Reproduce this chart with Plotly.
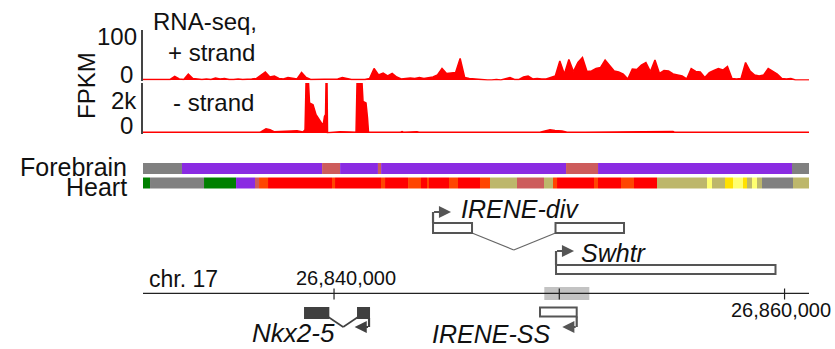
import plotly.graph_objects as go

# ---------------- data ----------------
REGION_START = 26831520
REGION_END = 26861085

# RNA-seq, + strand (FPKM), evenly spaced bins across the region
plus_fpkm = [
    1, 1, 2, 1, 1, 2, 1, 7, 2, 1,
    12, 3, 2, 1, 2, 1, 4, 2, 3, 1,
    1, 2, 1, 1, 2, 3, 10, 16, 6, 8,
    3, 2, 5, 3, 2, 15, 5, 1, 1, 1,
    1, 1, 1, 2, 5, 3, 1, 1, 1, 1,
    3, 23, 10, 14, 8, 13, 6, 2, 3, 4,
    3, 5, 3, 4, 6, 10, 23, 13, 14, 15,
    43, 5, 3, 2, 2, 1, 0, 0, 1, 0,
    2, 5, 1, 1, 6, 8, 2, 3, 2, 2,
    5, 8, 38, 12, 41, 17, 35, 45, 17, 18,
    23, 25, 40, 30, 18, 16, 12, 2, 22, 21,
    30, 35, 17, 40, 13, 19, 18, 12, 10, 8,
    2, 23, 17, 16, 5, 15, 19, 23, 20, 27,
    3, 2, 3, 35, 18, 10, 8, 10, 23, 17,
    12, 3, 2, 3, 0, 0, 0, 0,
]

# RNA-seq, - strand (FPKM)
minus_pos = [
    26831520, 26834052, 26836715, 26836981, 26837159, 26837337, 26838047, 26838358,
    26838624, 26838713, 26838757, 26838868, 26838912, 26839068, 26839201, 26839379,
    26839512, 26839578, 26839623, 26839645, 26839689, 26839711, 26839956, 26840266,
    26840710, 26840977, 26841021, 26841243, 26841287, 26841420, 26841487, 26841531,
    26842930, 26843019, 26843107, 26843684, 26843773, 26849144, 26849366, 26849588,
    26849810, 26850121, 26850343, 26851053, 26851142, 26855048, 26855137, 26861085,
]
minus_fpkm = [
    40, 50, 40, 250, 200, 80, 100, 130,
    60, 200, 3000, 3000, 1800, 1700, 1100, 700,
    450, 1000, 1100, 3000, 3000, 20, 40, 80,
    60, 40, 3000, 3000, 1900, 1800, 900, 40,
    40, 90, 40, 80, 40, 40, 120, 200,
    150, 120, 40, 80, 40, 90, 40, 40,
]

plus_range_max = 100
minus_range_max = 3000
plus_tick_text = ["100", "0"]
minus_tick_text = ["2k", "0"]

# chromatin state segments
forebrain_bounds = [26831520, 26833250, 26839470, 26840270, 26841950, 26842090,
                    26850300, 26851720, 26860330, 26861085]
forebrain_states = ["gray", "purple", "indianred", "purple", "indianred", "purple",
                    "indianred", "purple", "gray"]

heart_bounds = [26831520, 26831832, 26834229, 26835650, 26836493, 26836671, 26837070,
                26839911, 26840044, 26842086, 26842264, 26843285, 26843862, 26844128,
                26844217, 26845105, 26845504, 26846481, 26846925, 26848123, 26849322,
                26849721, 26849899, 26851541, 26851719, 26852740, 26853317, 26854338,
                26856557, 26856779, 26857356, 26857712, 26858156, 26858333, 26858555,
                26858777, 26858999, 26860375, 26861085]
heart_states = ["green", "gray", "green", "purple", "indianred", "orangered", "red",
                "orangered", "red", "orangered", "red", "orangered", "red", "orangered",
                "red", "orangered", "red", "orangered", "khaki", "indianred", "khaki",
                "orangered", "red", "orangered", "red", "orangered", "red", "khaki",
                "paleyellow", "khaki", "yellow", "paleyellow", "yellow", "khaki",
                "paleyellow", "khaki", "gray", "khaki"]

state_colors = {
    "gray": "#808080", "purple": "#8A2BE2", "indianred": "#CD5C5C",
    "green": "#008000", "red": "#FF0000", "orangered": "#FF4500",
    "khaki": "#BDB76B", "yellow": "#FFE100", "paleyellow": "#FFFF70",
}

chr_name = "chr. 17"
chr_ticks = [26840000, 26850000, 26860000]
chr_tick_text = ["26,840,000", "", "26,860,000"]
highlight = [26849335, 26851333]

irene_div_exons = [[26844395, 26846126], [26849832, 26852873]]
swhtr_exons = [[26849855, 26859598]]
irene_ss_exons = [[26849144, 26850773]]
nkx25_exons = [[26838713, 26839747], [26841065, 26841554]]

# ---------------- layout helpers ----------------
W, H = 835, 349
AX_L, AX_R = 143, 809
FONT = "Liberation Sans, Arial, sans-serif"


def pxx(p):
    return p / W


def pyy(p):
    return 1 - p / H


fig = go.Figure()

n = len(plus_fpkm)
step = (REGION_END - REGION_START) / (n - 1)
plus_pos = [REGION_START + i * step for i in range(n)]

fig.add_trace(go.Scatter(x=plus_pos, y=plus_fpkm, mode="lines",
                         line=dict(color="#FF0000", width=1.5),
                         fill="tozeroy", fillcolor="#FF0000",
                         xaxis="x", yaxis="y", hoverinfo="skip"))
fig.add_trace(go.Scatter(x=minus_pos, y=minus_fpkm, mode="lines",
                         line=dict(color="#FF0000", width=1.5),
                         fill="tozeroy", fillcolor="#FF0000",
                         xaxis="x", yaxis="y2", hoverinfo="skip"))

# chromatin state bars
ROW_Y = {"Forebrain": 168.5, "Heart": 183}
bx, bbase, by, bcol = [], [], [], []
for name, bounds, states in (("Forebrain", forebrain_bounds, forebrain_states),
                             ("Heart", heart_bounds, heart_states)):
    for i, s in enumerate(states):
        bbase.append(bounds[i])
        bx.append(bounds[i + 1] - bounds[i])
        by.append(ROW_Y[name])
        bcol.append(state_colors[s])
fig.add_trace(go.Bar(x=bx, base=bbase, y=by, orientation="h", width=11,
                     marker=dict(color=bcol, line=dict(width=0)),
                     xaxis="x", yaxis="y3", hoverinfo="skip"))

shapes = []
GENE_LINE = "#555555"

# chromosome axis
shapes.append(dict(type="rect", xref="x", yref="y3", x0=highlight[0], x1=highlight[1],
                   y0=287, y1=300, fillcolor="#C3C3C3", line=dict(width=0), layer="above"))
shapes.append(dict(type="line", xref="x", yref="y3", x0=REGION_START, x1=REGION_END + 40,
                   y0=293.3, y1=293.3, line=dict(color="#222222", width=1.2)))
for t in chr_ticks:
    shapes.append(dict(type="line", xref="x", yref="y3", x0=t, x1=t, y0=288.5, y1=299.5,
                       line=dict(color="#222222", width=1.2)))


def add_exons(exons, y0, y1, fill, line):
    for a, b in exons:
        shapes.append(dict(type="rect", xref="x", yref="y3", x0=a, x1=b, y0=y0, y1=y1,
                           fillcolor=fill, line=dict(color=line, width=2)))


def add_intron(a, b, ybase, yapex, color, width):
    mid = (a + b) / 2
    for xa, ya, xb, yb in ((a, ybase, mid, yapex), (mid, yapex, b, ybase)):
        shapes.append(dict(type="line", xref="x", yref="y3", x0=xa, y0=ya, x1=xb, y1=yb,
                           line=dict(color=color, width=width)))


def add_tss(xpos, ybox, yarrow, color):
    shapes.append(dict(type="line", xref="x", yref="y3", x0=xpos, x1=xpos,
                       y0=ybox, y1=yarrow, line=dict(color=color, width=2.2)))


# IRENE-div
add_intron(irene_div_exons[0][1], irene_div_exons[1][0], 233, 250, "#666666", 1.2)
add_exons(irene_div_exons, 223, 233, "white", GENE_LINE)
add_tss(irene_div_exons[0][0], 223, 212, GENE_LINE)
# Swhtr
add_exons(swhtr_exons, 265, 274, "white", GENE_LINE)
add_tss(swhtr_exons[0][0], 265, 251, GENE_LINE)
# IRENE-SS
add_exons(irene_ss_exons, 307.5, 316.5, "white", GENE_LINE)
add_tss(irene_ss_exons[0][1], 316.5, 327, GENE_LINE)
# Nkx2-5
add_intron(nkx25_exons[0][1], nkx25_exons[1][0], 317, 327, "#404040", 1.6)
add_exons(nkx25_exons, 308, 318, "#404040", "#404040")
add_tss(nkx25_exons[-1][1], 318, 327, "#404040")

ARROW_BP = 800
ann = []


def arrow(tail, tip, y, color):
    ann.append(dict(x=tip, y=y, xref="x", yref="y3", ax=tail, ay=y, axref="x", ayref="y3",
                    text="", showarrow=True, arrowhead=2, arrowsize=1.1, arrowwidth=2.2,
                    arrowcolor=color, standoff=0, borderwidth=0))


arrow(irene_div_exons[0][0], irene_div_exons[0][0] + ARROW_BP, 212, GENE_LINE)
arrow(swhtr_exons[0][0], swhtr_exons[0][0] + ARROW_BP, 251, GENE_LINE)
arrow(irene_ss_exons[0][1], irene_ss_exons[0][1] - ARROW_BP * 0.8, 327, GENE_LINE)
arrow(nkx25_exons[-1][1], nkx25_exons[-1][1] - ARROW_BP * 0.8, 327, "#404040")


def gene_label(text, x, y, anchor, shift, size=25):
    ann.append(dict(x=x, y=y, xref="x", yref="y3", text=f"<i>{text}</i>", showarrow=False,
                    xanchor=anchor, yanchor="middle", xshift=shift, borderwidth=0,
                    font=dict(family=FONT, size=size, color="#111111")))


gene_label("IRENE-div", irene_div_exons[0][0], 209, "left", 27)
gene_label("Swhtr", swhtr_exons[0][0], 253, "left", 24)
gene_label("IRENE-SS", irene_ss_exons[0][1], 334, "right", -26)
gene_label("Nkx2-5", nkx25_exons[-1][1], 333, "right", -33, 26)

# chromosome tick labels
tick_label_pos = [(277.5, 12), None, (310, -3.5)]
for t, lab, pos in zip(chr_ticks, chr_tick_text, tick_label_pos):
    if lab and pos:
        ann.append(dict(x=t, y=pos[0], xref="x", yref="y3", text=lab, showarrow=False,
                        xanchor="center", yanchor="middle", xshift=pos[1], borderwidth=0,
                        font=dict(family=FONT, size=20, color="#111111")))


def text_label(text, xp, yp, anchor, size=24, angle=0):
    ann.append(dict(x=pxx(xp), y=pyy(yp), xref="paper", yref="paper", text=text,
                    showarrow=False, xanchor=anchor, yanchor="middle", textangle=angle,
                    borderwidth=0, font=dict(family=FONT, size=size, color="#111111")))


text_label(chr_name, 148, 279, "left", 23)
text_label("RNA-seq,", 152, 22, "left")
text_label("+ strand", 167, 52, "left")
text_label("- strand", 172, 102, "left")
text_label("FPKM", 87, 86, "center", 24, -90)
text_label(plus_tick_text[0], 138, 36.5, "right")
text_label(plus_tick_text[1], 134, 74, "right")
text_label(minus_tick_text[0], 138, 100, "right")
text_label(minus_tick_text[1], 134, 125.5, "right")
text_label("Forebrain", 128, 167, "right", 25)
text_label("Heart", 128, 187, "right", 25)

axis_common = dict(showline=True, linecolor="#444444", linewidth=1.5, showticklabels=False,
                   showgrid=False, zeroline=False, ticks="", anchor="x", fixedrange=True)

fig.update_layout(
    width=W, height=H, margin=dict(l=0, r=0, t=0, b=0),
    paper_bgcolor="white", plot_bgcolor="rgba(0,0,0,0)",
    showlegend=False, barmode="overlay",
    xaxis=dict(domain=[AX_L / W, AX_R / W], range=[REGION_START, REGION_END],
               visible=False, anchor="y", fixedrange=True),
    yaxis=dict(domain=[pyy(80.5), pyy(30)], range=[-plus_range_max / 100, plus_range_max],
               **axis_common),
    yaxis2=dict(domain=[pyy(133.5), pyy(83)], range=[-minus_range_max / 100, minus_range_max],
                **axis_common),
    yaxis3=dict(domain=[0, 1], range=[H, 0], visible=False, anchor="x", fixedrange=True),
    shapes=shapes, annotations=ann,
)

fig.write_html("out.html")
